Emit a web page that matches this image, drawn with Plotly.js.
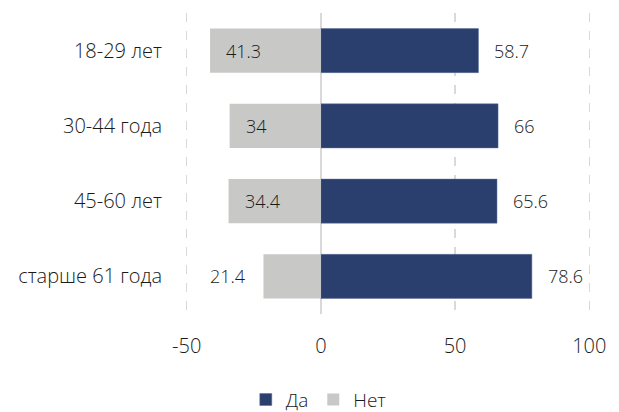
<!DOCTYPE html>
<html>
<head>
<meta charset="utf-8">
<script src="https://cdn.plot.ly/plotly-3.0.1.min.js"></script>
<style>html,body{margin:0;padding:0;background:#fff;}#chart{width:619px;height:412px;}</style>
</head>
<body>
<div id="chart"></div>
<script>
const categories = ['18-29 лет', '30-44 года', '45-60 лет', 'старше 61 года'];
const daValues = [58.7, 66, 65.6, 78.6];
const netValues = [41.3, 34, 34.4, 21.4];
const xTickVals = [-50, 0, 50, 100];
const xTickText = ['-50', '0', '50', '100'];

const FONT = 'Open Sans, Noto Sans, sans-serif';
const TXT = '#1a1a1a';
const W = 300;

const traces = [
  {
    type: 'bar', orientation: 'h', name: 'Да',
    y: categories, x: daValues,
    marker: {color: '#2A3F6D', line: {color: '#5b6f99', width: 0.5}},
    hoverinfo: 'none'
  },
  {
    type: 'bar', orientation: 'h', name: 'Нет',
    y: categories, x: netValues.map(v => -v),
    marker: {color: '#C8C9C7', line: {width: 0}},
    hoverinfo: 'none'
  }
];

const annotations = [];
categories.forEach((c, i) => {
  annotations.push({
    x: daValues[i], y: c, xref: 'x', yref: 'y',
    text: String(daValues[i]), showarrow: false,
    xanchor: 'left', xshift: 14, font: {family: FONT, size: 18, color: TXT, weight: W}
  });
  const inside = netValues[i] > 25;
  annotations.push({
    x: -netValues[i], y: c, xref: 'x', yref: 'y',
    text: String(netValues[i]), showarrow: false,
    xanchor: inside ? 'left' : 'right', xshift: inside ? 14 : -15,
    font: {family: FONT, size: 18, color: TXT, weight: W}
  });
});

const layout = {
  width: 619, height: 412,
  margin: {l: 183.8, r: 26.6, t: 13, b: 98},
  paper_bgcolor: '#fff', plot_bgcolor: '#fff',
  font: {family: FONT, color: TXT, size: 18, weight: W},
  barmode: 'relative', bargap: 0.415,
  showlegend: true,
  legend: {
    orientation: 'h', xref: 'container', yref: 'container',
    x: 0.515, xanchor: 'center', y: 0.03, yanchor: 'middle',
    font: {family: FONT, size: 19, color: TXT, weight: W},
    traceorder: 'normal', itemwidth: 30
  },
  xaxis: {
    range: [-51, 101], tickvals: xTickVals, ticktext: xTickText,
    showgrid: true, gridcolor: '#D9D9D9', griddash: 'dash', gridwidth: 1.5,
    zeroline: true, zerolinecolor: '#D9D9D9', zerolinewidth: 2,
    showline: false, ticks: 'outside', ticklen: 14, tickcolor: 'rgba(0,0,0,0)',
    tickfont: {family: FONT, size: 20, color: TXT, weight: W}, fixedrange: true
  },
  yaxis: {
    autorange: 'reversed', showgrid: false, zeroline: false, showline: false,
    ticks: 'outside', ticklen: 17, tickcolor: 'rgba(0,0,0,0)',
    tickfont: {family: FONT, size: 20, color: TXT, weight: W}, fixedrange: true
  },
  annotations: annotations
};

Plotly.newPlot('chart', traces, layout, {displayModeBar: false, staticPlot: true});
</script>
</body>
</html>
